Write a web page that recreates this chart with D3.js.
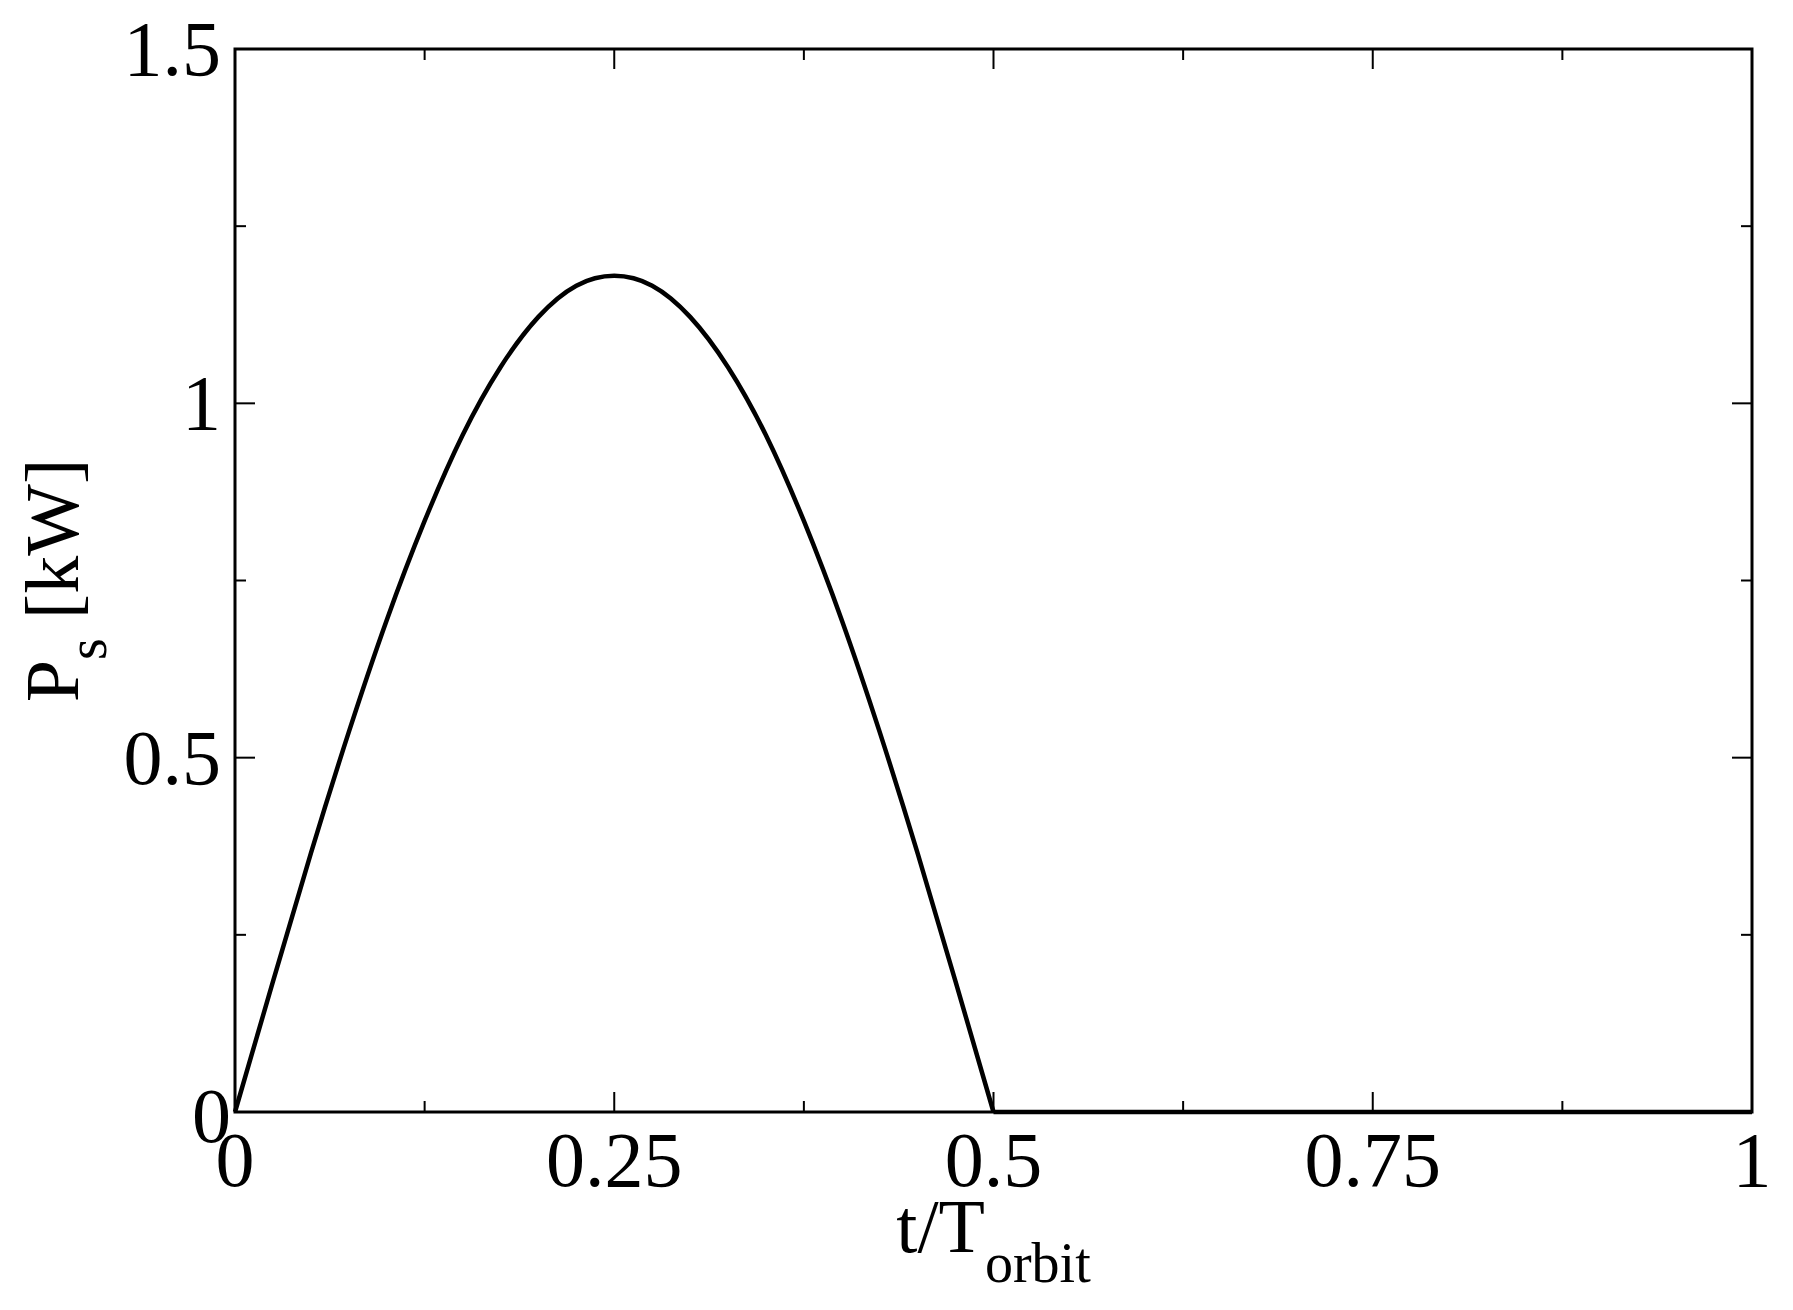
<!DOCTYPE html>
<html><head><meta charset="utf-8">
<script src="https://cdn.jsdelivr.net/npm/d3@7"></script>
<style>body{margin:0;background:#fff}text{font-family:"Liberation Serif","DejaVu Serif",serif;fill:#000}</style>
</head><body><svg id="c" width="1793" height="1310"></svg>
<script>
const tValues = [0,0.025,0.05,0.075,0.1,0.125,0.15,0.175,0.2,0.225,0.25,0.275,0.3,0.325,0.35,0.375,0.4,0.425,0.45,0.475,0.5,1];
const pValues = [0,0.184,0.365,0.536,0.694,0.834,0.955,1.051,1.122,1.166,1.18,1.166,1.122,1.051,0.955,0.834,0.694,0.536,0.365,0.184,0,0];
const xTicks = [0,0.25,0.5,0.75,1];
const xTickLabels = ["0","0.25","0.5","0.75","1"];
const yTicks = [0,0.5,1,1.5];
const yTickLabels = ["0","0.5","1","1.5"];
const xMinor = [0.125,0.375,0.625,0.875];
const yMinor = [0.25,0.75,1.25];

const svg = d3.select("#c");
const L=235,R=1752,T=49,B=1112;
const x = d3.scaleLinear().domain([0,1]).range([L,R]);
const y = d3.scaleLinear().domain([0,1.5]).range([B,T]);
const g = svg.append("g");
const tk = (x1,y1,x2,y2)=>g.append("line").attr("x1",x1).attr("y1",y1).attr("x2",x2).attr("y2",y2).attr("stroke","#000").attr("stroke-width",2);
const maj=20, mn=11;
xTicks.forEach(v=>{tk(x(v),B,x(v),B-maj);tk(x(v),T,x(v),T+maj);});
xMinor.forEach(v=>{tk(x(v),B,x(v),B-mn);tk(x(v),T,x(v),T+mn);});
yTicks.forEach(v=>{tk(L,y(v),L+maj,y(v));tk(R,y(v),R-maj,y(v));});
yMinor.forEach(v=>{tk(L,y(v),L+mn,y(v));tk(R,y(v),R-mn,y(v));});
g.append("rect").attr("x",L).attr("y",T).attr("width",R-L).attr("height",B-T).attr("fill","none").attr("stroke","#000").attr("stroke-width",3);
xTicks.forEach((v,i)=>g.append("text").attr("x",x(v)).attr("y",B+74).attr("text-anchor","middle").attr("font-size",78).text(xTickLabels[i]));
yTicks.forEach((v,i)=>g.append("text").attr("x",v===0?L-4:L-14).attr("y",y(v)+(v===0?30:26)).attr("text-anchor","end").attr("font-size",78).text(yTickLabels[i]));
const pts = tValues.map((t,i)=>[t,pValues[i]]);
const arc = pts.filter(d=>d[0]<=0.5), flat = pts.filter(d=>d[0]>=0.5);
const ln = c=>d3.line().x(d=>x(d[0])).y(d=>y(d[1])).curve(c);
g.append("path").datum(arc).attr("d",ln(d3.curveNatural)).attr("fill","none").attr("stroke","#000").attr("stroke-width",4.5);
g.append("path").datum(flat).attr("d",ln(d3.curveLinear)).attr("fill","none").attr("stroke","#000").attr("stroke-width",4.5);
const xl = g.append("text").attr("x",(L+R)/2).attr("y",1252).attr("text-anchor","middle").attr("font-size",76);
xl.append("tspan").text("t/T");
xl.append("tspan").attr("font-size",56).attr("dy",30).text("orbit");
const yl = g.append("text").attr("transform",`translate(78,${(T+B)/2}) rotate(-90)`).attr("text-anchor","middle").attr("font-size",76);
yl.append("tspan").text("P");
yl.append("tspan").attr("font-size",56).attr("dy",28).text("s");
yl.append("tspan").attr("dy",-28).text(" [kW]");
</script></body></html>
